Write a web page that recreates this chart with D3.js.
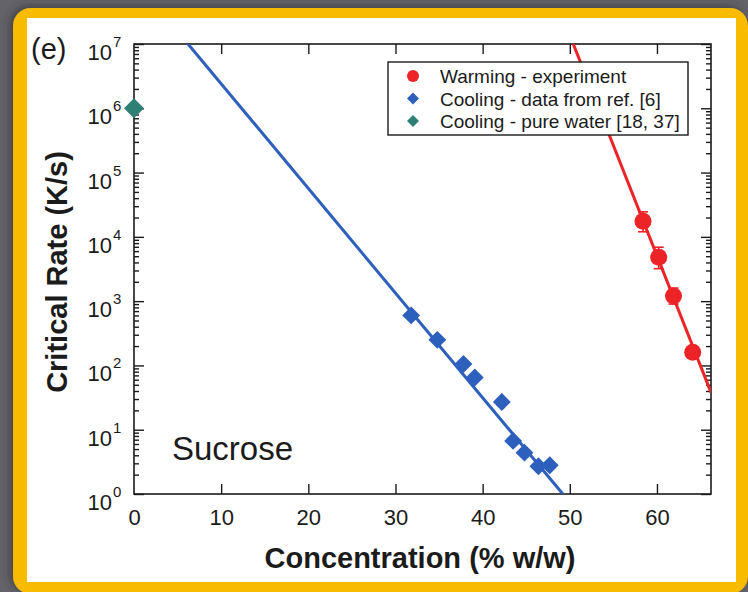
<!DOCTYPE html>
<html>
<head>
<meta charset="utf-8">
<script src="https://cdn.jsdelivr.net/npm/d3@7"></script>
<style>
  html, body { margin: 0; padding: 0; background: #636369; }
  svg { display: block; }
  text { font-family: "Liberation Sans", Arial, Helvetica, sans-serif; fill: #1b1b1b; }
</style>
</head>
<body>
<svg id="chart" width="748" height="592"></svg>
<script>
// Concentration ticks (% w/w) and decade exponents for the rate axis
const xTickValues = [0, 10, 20, 30, 40, 50, 60];
const yDecades = [0, 1, 2, 3, 4, 5, 6, 7];

// Warming - experiment (critical warming rate, K/s) with error limits
const warmingConc = [58.4, 60.2, 61.9, 64.1];
const warmingRate = [17500, 4800, 1200, 160];
const warmingLow = [12000, 3200, 900, 130];
const warmingHigh = [24500, 6900, 1600, 195];

// Cooling - data from ref. [6]
const coolingConc = [31.8, 34.8, 37.8, 39.1, 42.2, 43.5, 44.8, 46.4, 47.7];
const coolingRate = [600, 250, 105, 65, 27, 6.7, 4.4, 2.7, 2.8];

// Cooling - pure water [18, 37]
const waterConc = [0];
const waterRate = [1e6];

// Exponential fits (straight lines on the log axis), given by two end points
const coolingFitConc = [6.2, 49.2];
const coolingFitRate = [1e7, 1];
const warmingFitConc = [50.4, 66.2];
const warmingFitRate = [1e7, 38];

// Legend entries
const legendLabels = ["Warming - experiment", "Cooling - data from ref. [6]", "Cooling - pure water [18, 37]"];
const legendShapes = ["circle", "diamond", "diamond"];
const legendColors = ["#ec2327", "#2d5fbd", "#2e7f74"];

const RED = "#ec2327", BLUE = "#2d5fbd", TEAL = "#2e7f74", INK = "#1b1b1b";

const svg = d3.select("#chart");
const defs = svg.append("defs");

// ---- Framed panel: grey backdrop, gold border, white card ----
const sh = defs.append("filter").attr("id", "soft").attr("x", "-10%").attr("y", "-10%").attr("width", "120%").attr("height", "120%");
sh.append("feDropShadow").attr("dx", -3).attr("dy", -2).attr("stdDeviation", 4).attr("flood-color", "#2a2a2e").attr("flood-opacity", 0.6);

svg.append("rect").attr("x", 13).attr("y", 8).attr("width", 735).attr("height", 586)
  .attr("rx", 18).attr("fill", "#f8bb00").attr("filter", "url(#soft)");
svg.append("rect").attr("x", 27).attr("y", 18).attr("width", 709).attr("height", 564).attr("fill", "#ffffff");

// ---- Plot geometry ----
const pLeft = 134, pRight = 711, pTop = 44, pBottom = 494;

const x = d3.scaleLinear().domain([0, 66.2]).range([pLeft, pRight]);
const y = d3.scaleLog().domain([1, 1e7]).range([pBottom, pTop]);

defs.append("clipPath").attr("id", "plotClip").append("rect")
  .attr("x", pLeft).attr("y", pTop).attr("width", pRight - pLeft).attr("height", pBottom - pTop);

const minorVals = [];
for (let e = 0; e < 7; e++) for (let m = 2; m <= 9; m++) minorVals.push(m * Math.pow(10, e));
const majorVals = yDecades.map(e => Math.pow(10, e));

function styleAxis(g) {
  g.select(".domain").remove();
  g.selectAll(".tick line").attr("stroke", INK).attr("stroke-width", 1.4);
}

// Left axis (inward ticks), labels drawn separately as 10^n
svg.append("g").attr("transform", `translate(${pLeft},0)`)
  .call(d3.axisLeft(y).tickValues(majorVals).tickSize(-10).tickFormat(""))
  .call(styleAxis);
svg.append("g").attr("transform", `translate(${pLeft},0)`)
  .call(d3.axisLeft(y).tickValues(minorVals).tickSize(-5).tickFormat(""))
  .call(styleAxis);

// Right axis mirrors the left one
svg.append("g").attr("transform", `translate(${pRight},0)`)
  .call(d3.axisRight(y).tickValues(majorVals).tickSize(-10).tickFormat(""))
  .call(styleAxis);
svg.append("g").attr("transform", `translate(${pRight},0)`)
  .call(d3.axisRight(y).tickValues(minorVals).tickSize(-5).tickFormat(""))
  .call(styleAxis);

// Bottom axis with labels, top axis with ticks only
const xb = svg.append("g").attr("transform", `translate(0,${pBottom})`)
  .call(d3.axisBottom(x).tickValues(xTickValues).tickSize(-10).tickPadding(15).tickFormat(d3.format("d")))
  .call(styleAxis);
xb.selectAll(".tick text").attr("font-size", 22).attr("fill", INK)
  .style("font-family", "'Liberation Sans', Arial, sans-serif");
xb.selectAll(".tick").filter(d => d === 0).select("line").remove();

svg.append("g").attr("transform", `translate(0,${pTop})`)
  .call(d3.axisTop(x).tickValues(xTickValues.filter(d => d > 0)).tickSize(-10).tickFormat(""))
  .call(styleAxis);

// Plot frame
svg.append("rect").attr("x", pLeft).attr("y", pTop).attr("width", pRight - pLeft).attr("height", pBottom - pTop)
  .attr("fill", "none").attr("stroke", INK).attr("stroke-width", 1.6);

// Decade labels 10^n
const yl = svg.append("g").attr("class", "ylabels");
yDecades.forEach(e => {
  const py = y(Math.pow(10, e));
  yl.append("text").attr("x", 112).attr("y", py + 16).attr("text-anchor", "end")
    .attr("font-size", 22).text("10");
  yl.append("text").attr("x", 113).attr("y", py + 3).attr("text-anchor", "start")
    .attr("font-size", 15).text(e);
});

// ---- Fit lines ----
const line = d3.line().x(d => x(d[0])).y(d => y(d[1]));
const plot = svg.append("g").attr("clip-path", "url(#plotClip)");

plot.append("path").datum(d3.zip(coolingFitConc, coolingFitRate))
  .attr("d", line).attr("fill", "none").attr("stroke", BLUE).attr("stroke-width", 3);
plot.append("path").datum(d3.zip(warmingFitConc, warmingFitRate))
  .attr("d", line).attr("fill", "none").attr("stroke", RED).attr("stroke-width", 3);

// ---- Error bars on warming points ----
const errG = svg.append("g").attr("stroke", RED).attr("stroke-width", 1.6);
warmingConc.forEach((c, i) => {
  const cx = x(c);
  errG.append("line").attr("x1", cx).attr("x2", cx).attr("y1", y(warmingLow[i])).attr("y2", y(warmingHigh[i]));
  [warmingLow[i], warmingHigh[i]].forEach(v => {
    errG.append("line").attr("x1", cx - 5).attr("x2", cx + 5).attr("y1", y(v)).attr("y2", y(v));
  });
});

// ---- Markers ----
const sq = (size) => d3.symbol().type(d3.symbolSquare).size(size)();

svg.append("g").selectAll("path.cool").data(d3.zip(coolingConc, coolingRate)).join("path")
  .attr("class", "cool").attr("d", sq(160)).attr("fill", BLUE)
  .attr("transform", d => `translate(${x(d[0])},${y(d[1])}) rotate(45)`);

svg.append("g").selectAll("path.water").data(d3.zip(waterConc, waterRate)).join("path")
  .attr("class", "water").attr("d", sq(200)).attr("fill", TEAL)
  .attr("transform", d => `translate(${x(d[0])},${y(d[1])}) rotate(45)`);

svg.append("g").selectAll("circle.warm").data(d3.zip(warmingConc, warmingRate)).join("circle")
  .attr("class", "warm").attr("r", 8.5).attr("fill", RED)
  .attr("cx", d => x(d[0])).attr("cy", d => y(d[1]));

// ---- Legend ----
const lg = svg.append("g");
lg.append("rect").attr("x", 388).attr("y", 62).attr("width", 300).attr("height", 73)
  .attr("fill", "#ffffff").attr("stroke", INK).attr("stroke-width", 1.4);
legendLabels.forEach((t, i) => {
  const cy = 76 + i * 22.5;
  if (legendShapes[i] === "circle") {
    lg.append("circle").attr("cx", 413).attr("cy", cy).attr("r", 6).attr("fill", legendColors[i]);
  } else {
    lg.append("path").attr("d", sq(72)).attr("fill", legendColors[i])
      .attr("transform", `translate(413,${cy}) rotate(45)`);
  }
  lg.append("text").attr("x", 440).attr("y", cy + 7).attr("font-size", 19).text(t);
});

// ---- Titles and annotations ----
svg.append("text").attr("x", 31).attr("y", 59).attr("font-size", 29).text("(e)");
svg.append("text").attr("x", 172).attr("y", 460).attr("font-size", 33).text("Sucrose");

svg.append("text").attr("x", 420).attr("y", 568).attr("text-anchor", "middle")
  .attr("font-size", 29).attr("font-weight", "bold").text("Concentration (% w/w)");
svg.append("text").attr("transform", "translate(67,272) rotate(-90)").attr("text-anchor", "middle")
  .attr("font-size", 29).attr("font-weight", "bold").text("Critical Rate (K/s)");
</script>
</body>
</html>
